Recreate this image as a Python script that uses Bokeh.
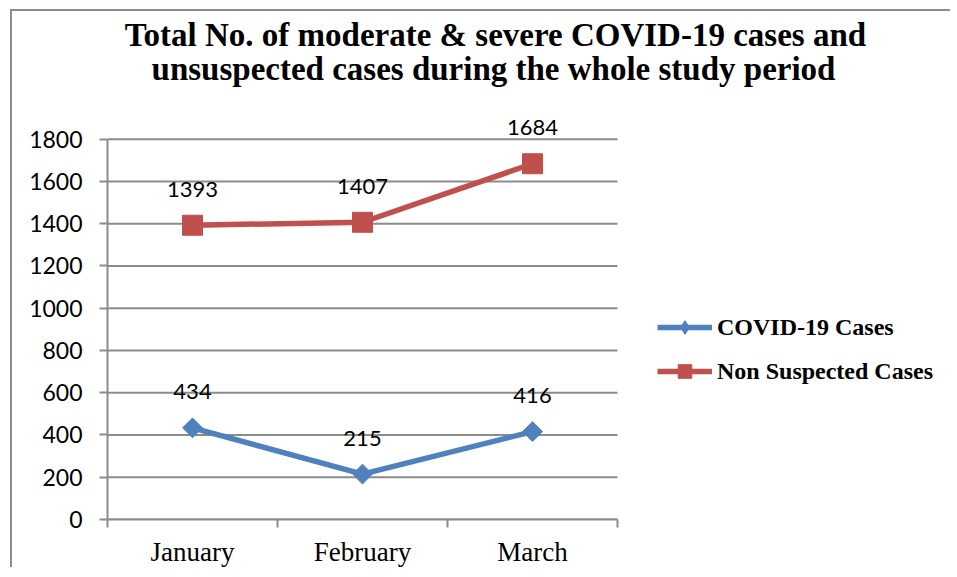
import math
from bokeh.plotting import figure
from bokeh.models import Range1d, FixedTicker, Legend, LegendItem, ColumnDataSource, Label
from bokeh.core.properties import value
from bokeh.embed import file_html
from bokeh.resources import INLINE

# ---- data ----
months = ["January", "February", "March"]
covid_cases = [434, 215, 416]
non_suspected = [1393, 1407, 1684]
y_ticks = [0, 200, 400, 600, 800, 1000, 1200, 1400, 1600, 1800]
series_names = ["COVID-19 Cases", "Non Suspected Cases"]
title_lines = ["Total No. of  moderate & severe COVID-19 cases and",
               "unsuspected cases during the whole study period"]

BLUE = "#4F81BD"
RED = "#C0504D"
GRID = "#8c8c8c"

# ---- layout (pixels) ----
W, H = 940, 558
ML, MB = 95, 49          # left / bottom borders of the canvas
PLOT_W, PLOT_H = 510, 381  # size of the category/value area inside the frame
frame_w, frame_h = W - ML, H - MB

xs = [i + 0.5 for i in range(len(months))]
src = ColumnDataSource(dict(
    x=xs, covid=covid_cases, non=non_suspected,
    covid_lbl=[str(v) for v in covid_cases],
    non_lbl=[str(v) for v in non_suspected],
))
grid_src = ColumnDataSource(dict(x0=[0] * len(y_ticks), x1=[len(months)] * len(y_ticks),
                                 y=y_ticks))

p = figure(width=W, height=H, output_backend="svg", toolbar_location=None,
           x_range=Range1d(0, len(months) * frame_w / PLOT_W),
           y_range=Range1d(y_ticks[0], y_ticks[-1] * frame_h / PLOT_H),
           min_border_left=ML, min_border_right=0, min_border_top=0, min_border_bottom=MB)
p.styles = {"border-left": "2px solid #8c8c8c", "border-top": "2px solid #8c8c8c",
            "margin-left": "10px", "margin-top": "9px"}
p.outline_line_color = None
p.background_fill_color = "white"
p.border_fill_color = "white"

# horizontal gridlines limited to the category area
p.segment("x0", "y", "x1", "y", source=grid_src, line_color=GRID, line_width=2)
p.xgrid.visible = False
p.ygrid.visible = False

# axes
p.xaxis.bounds = (0, len(months))
p.xaxis.ticker = FixedTicker(ticks=xs, minor_ticks=list(range(len(months) + 1)))
p.xaxis.major_label_overrides = {x: m for x, m in zip(xs, months)}
p.xaxis.major_tick_out = 0
p.xaxis.major_tick_in = 0
p.xaxis.minor_tick_out = 8
p.xaxis.minor_tick_in = 0
p.xaxis.minor_tick_line_color = GRID
p.xaxis.minor_tick_line_width = 2
p.xaxis.axis_line_color = GRID
p.xaxis.axis_line_width = 2
p.xaxis.major_label_text_font = "Liberation Serif"
p.xaxis.major_label_text_font_size = "27px"
p.xaxis.major_label_text_color = "black"
p.xaxis.major_label_standoff = 9

p.yaxis.bounds = (y_ticks[0], y_ticks[-1])
p.yaxis.ticker = FixedTicker(ticks=y_ticks, minor_ticks=[])
p.yaxis.major_tick_out = 8
p.yaxis.major_tick_in = 0
p.yaxis.major_tick_line_color = GRID
p.yaxis.major_tick_line_width = 2
p.yaxis.axis_line_color = GRID
p.yaxis.axis_line_width = 2
p.yaxis.major_label_text_font = "Lato"
p.yaxis.major_label_text_font_size = "23px"
p.yaxis.major_label_text_color = "black"
p.yaxis.major_label_standoff = 17

# series
l1 = p.line("x", "covid", source=src, line_color=BLUE, line_width=5.5)
# diamond (used as the legend symbol) sits fully under the rotated square marker
d1 = p.scatter("x", "covid", source=src, marker="diamond", size=14,
               fill_color=BLUE, line_color=BLUE)
p.scatter("x", "covid", source=src, marker="square", size=14, angle=math.pi / 4,
          fill_color=BLUE, line_color=BLUE)
l2 = p.line("x", "non", source=src, line_color=RED, line_width=5.5)
m2 = p.scatter("x", "non", source=src, marker="square", size=20,
               fill_color=RED, line_color=RED)

for col, ycol in (("covid_lbl", "covid"), ("non_lbl", "non")):
    p.text("x", ycol, text=col, source=src, y_offset=-36, text_align="center",
           text_baseline="middle", text_font=value("Lato"), text_font_size="22px",
           text_color="black")

# title (screen units relative to the frame)
for t, ty, tx in zip(title_lines, [485, 451], [392, 386]):
    p.add_layout(Label(x=tx, y=ty, x_units="screen", y_units="screen", text=t,
                       text_align="center", text_baseline="alphabetic",
                       text_font="Liberation Serif", text_font_style="bold",
                       text_font_size="33px", text_color="black"))

legend = Legend(items=[LegendItem(label=series_names[0], renderers=[l1, d1]),
                       LegendItem(label=series_names[1], renderers=[l2, m2])],
                location=(550, 131), orientation="vertical")
legend.label_text_font = "Liberation Serif"
legend.label_text_font_style = "bold"
legend.label_text_font_size = "24px"
legend.label_text_color = "black"
legend.label_standoff = 5
legend.glyph_width = 55
legend.glyph_height = 34
legend.spacing = 10
legend.padding = 0
legend.margin = 0
legend.border_line_color = None
legend.background_fill_alpha = 0
p.add_layout(legend)

open("out.html", "w").write(file_html(p, INLINE))
